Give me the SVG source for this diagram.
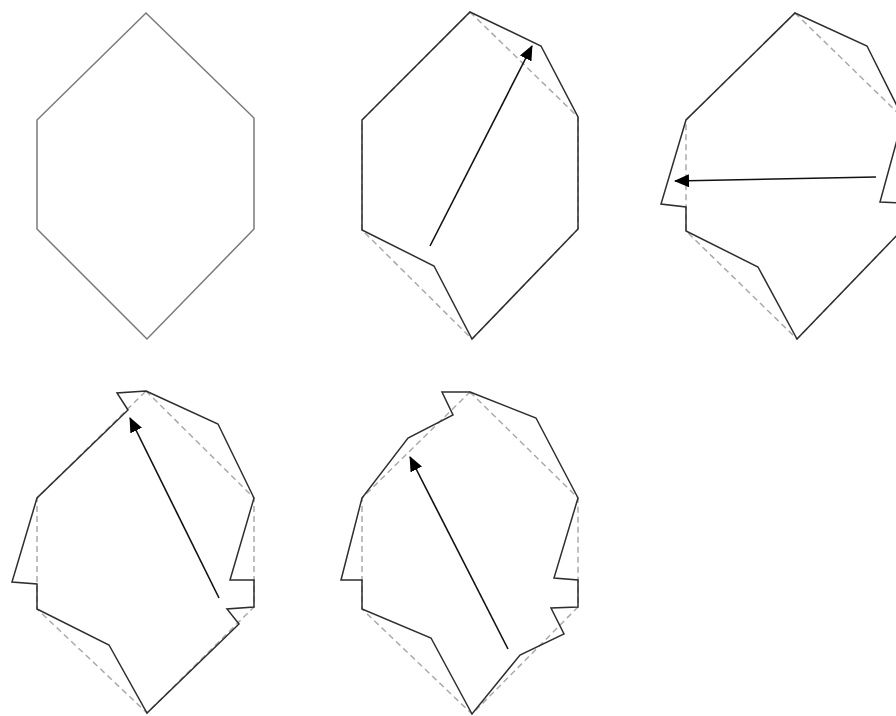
<svg xmlns="http://www.w3.org/2000/svg" width="896" height="716" viewBox="0 0 896 716">
<style>
.orig{fill:none;stroke:#7a7a7a;stroke-width:1.5;stroke-linejoin:miter}
.dash{fill:none;stroke:#aaaaaa;stroke-width:1.5;stroke-dasharray:6 4}
.tile{fill:none;stroke:#2e2e2e;stroke-width:1.5;stroke-linejoin:miter}
.arrow{fill:none;stroke:#111;stroke-width:1.6;marker-end:url(#ah)}
</style>
<defs>
<marker id="ah" markerUnits="userSpaceOnUse" markerWidth="15" markerHeight="13" viewBox="0 0 15 13" refX="14" refY="6.5" orient="auto">
<path d="M0,0 L15,6.5 L0,13 z" fill="#000"/>
</marker>
</defs>
<rect width="896" height="716" fill="#fff"/>
<g id="hex1">
<polygon class="orig" points="146,13 254,118 254,229 147,339 37,229 37,120"/>
</g>
<g id="hex2">
<polygon class="dash" points="470,12 578,117 578,229 472,339 362,230 362,120"/>
<polygon class="tile" points="470,12 541,46 578,117 578,229 472,339 434,266 362,230 362,120"/>
</g>
<g id="hex3">
<polygon class="dash" points="795,13 903,118 903,229 797,339 686,231 686,120"/>
<polygon class="tile" points="795,13 867,46 903,118 880,202 903,203 903,229 797,339 758,267 686,231 686,207 661,204 686,120"/>
</g>
<g id="hex4">
<polygon class="dash" points="146,391 254,498 254,607 147,713 37,609 37,498"/>
<polygon class="tile" points="146,391 218,424 254,498 230,580 254,580 254,607 227,609 239,624 147,713 109,645 37,609 37,584 12,582 37,498 128,410 117,393"/>
</g>
<g id="hex5">
<polygon class="dash" points="470,392 578,498 578,607 472,714 362,609 362,498"/>
<polygon class="tile" points="470,392 536,418 578,498 554,578 578,580 578,607 551,608 564,634 520,655 472,714 431,638 362,609 362,580 341,580 362,498 408,438 453,415 442,392"/>
</g>
<g id="connectors">
<line class="arrow" x1="430" y1="246" x2="532" y2="46"/>
<line class="arrow" x1="876" y1="177" x2="675" y2="181"/>
<line class="arrow" x1="219" y1="598" x2="130" y2="418"/>
<line class="arrow" x1="508" y1="649" x2="410" y2="457"/>
</g>
</svg>
